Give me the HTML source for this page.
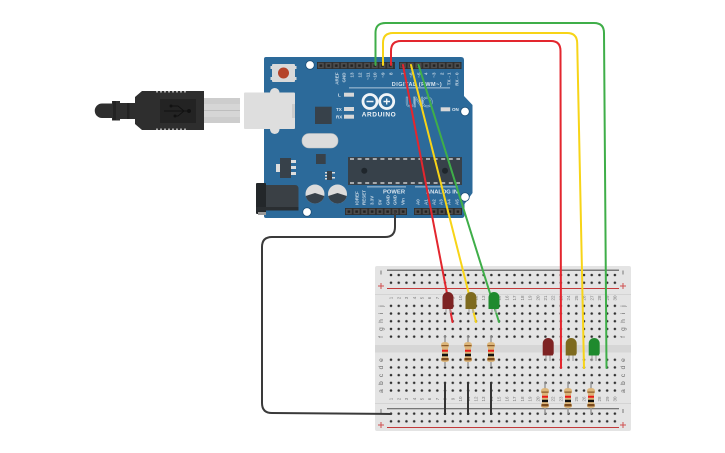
<!DOCTYPE html>
<html><head><meta charset="utf-8"><style>html,body{margin:0;padding:0;background:#fff}svg{display:block}text{font-family:"Liberation Sans",sans-serif}</style></head><body>
<svg width="725" height="453" viewBox="0 0 725 453" xmlns="http://www.w3.org/2000/svg">
<defs>
<pattern id="d" x="387.15" y="1.65" width="7.72" height="7.7" patternUnits="userSpaceOnUse"><circle cx="3.86" cy="3.85" r="1.25" fill="#2e2e2e"/></pattern>
<pattern id="h1" x="317" y="62" width="7.7" height="7" patternUnits="userSpaceOnUse"><rect x=".8" y=".8" width="6" height="5.4" fill="#4d4d4d"/><rect x="2.6" y="2.4" width="2.6" height="2.4" fill="#222"/></pattern>
<pattern id="h2" x="399" y="62" width="7.8" height="7" patternUnits="userSpaceOnUse"><rect x=".8" y=".8" width="6" height="5.4" fill="#4d4d4d"/><rect x="2.6" y="2.4" width="2.6" height="2.4" fill="#222"/></pattern>
<pattern id="h3" x="345" y="208" width="7.75" height="7" patternUnits="userSpaceOnUse"><rect x=".8" y=".8" width="6" height="5.4" fill="#4d4d4d"/><rect x="2.6" y="2.4" width="2.6" height="2.4" fill="#222"/></pattern>
<pattern id="h4" x="414" y="208" width="8" height="7" patternUnits="userSpaceOnUse"><rect x=".8" y=".8" width="6" height="5.4" fill="#4d4d4d"/><rect x="2.6" y="2.4" width="2.6" height="2.4" fill="#222"/></pattern>
</defs>
<!-- breadboard -->
<rect x="375" y="266" width="256" height="165" rx="2" fill="#e4e4e4"/>
<rect x="375" y="294" width="256" height="1" fill="#d4d4d4"/>
<rect x="375" y="403" width="256" height="1" fill="#d4d4d4"/>
<rect x="375" y="345" width="256" height="7.500" fill="#d6d6d6"/>
<rect x="387" y="269.500" width="232" height="1.500" fill="#777"/>
<rect x="387" y="288" width="232" height="1" fill="#c23a3a"/>
<rect x="387" y="408" width="232" height="1.300" fill="#777"/>
<rect x="387" y="427" width="232" height="1" fill="#c23a3a"/>
<g fill="url(#d)">
<rect x="387.15" y="271.6" width="231.6" height="15.4"/>
<rect x="387.15" y="302.4" width="231.6" height="38.5"/>
<rect x="387.15" y="356.3" width="231.6" height="38.5"/>
<rect x="387.15" y="410.2" width="231.6" height="15.4"/>
</g>
<path d="M381 270.500V274.500M381 409V413M623 270.500V274.500M623 409V413" stroke="#777" stroke-width="1"/>
<path d="M378 286H384M381 283V289M378 425H384M381 422V428M620 286H626M623 283V289M620 425H626M623 422V428" stroke="#d05050" stroke-width="1"/>
<g font-size="6.500" fill="#666" text-anchor="middle">
<text transform="translate(383 306) rotate(-90)">j</text><text transform="translate(383 313.500) rotate(-90)">i</text><text transform="translate(383 321) rotate(-90)">h</text><text transform="translate(383 329) rotate(-90)">g</text><text transform="translate(383 337) rotate(-90)">f</text>
<text transform="translate(383 360) rotate(-90)">e</text><text transform="translate(383 367.500) rotate(-90)">d</text><text transform="translate(383 375.500) rotate(-90)">c</text><text transform="translate(383 383) rotate(-90)">b</text><text transform="translate(383 391) rotate(-90)">a</text>
<text transform="translate(625 306) rotate(-90)">j</text><text transform="translate(625 313.500) rotate(-90)">i</text><text transform="translate(625 321) rotate(-90)">h</text><text transform="translate(625 329) rotate(-90)">g</text><text transform="translate(625 337) rotate(-90)">f</text>
<text transform="translate(625 360) rotate(-90)">e</text><text transform="translate(625 367.500) rotate(-90)">d</text><text transform="translate(625 375.500) rotate(-90)">c</text><text transform="translate(625 383) rotate(-90)">b</text><text transform="translate(625 391) rotate(-90)">a</text>
</g>
<g font-size="4.500" fill="#777" text-anchor="middle">
<text transform="translate(392.6 298) rotate(-90)">1</text><text transform="translate(400.3 298) rotate(-90)">2</text><text transform="translate(408 298) rotate(-90)">3</text><text transform="translate(415.8 298) rotate(-90)">4</text><text transform="translate(423.5 298) rotate(-90)">5</text><text transform="translate(431.2 298) rotate(-90)">6</text><text transform="translate(438.9 298) rotate(-90)">7</text><text transform="translate(446.6 298) rotate(-90)">8</text><text transform="translate(454.3 298) rotate(-90)">9</text><text transform="translate(462.1 298) rotate(-90)">10</text><text transform="translate(469.8 298) rotate(-90)">11</text><text transform="translate(477.5 298) rotate(-90)">12</text><text transform="translate(485.2 298) rotate(-90)">13</text><text transform="translate(492.9 298) rotate(-90)">14</text><text transform="translate(500.7 298) rotate(-90)">15</text><text transform="translate(508.4 298) rotate(-90)">16</text><text transform="translate(516.1 298) rotate(-90)">17</text><text transform="translate(523.8 298) rotate(-90)">18</text><text transform="translate(531.5 298) rotate(-90)">19</text><text transform="translate(539.3 298) rotate(-90)">20</text><text transform="translate(547 298) rotate(-90)">21</text><text transform="translate(554.7 298) rotate(-90)">22</text><text transform="translate(562.5 298) rotate(-90)">23</text><text transform="translate(570.2 298) rotate(-90)">24</text><text transform="translate(577.9 298) rotate(-90)">25</text><text transform="translate(585.6 298) rotate(-90)">26</text><text transform="translate(593.4 298) rotate(-90)">27</text><text transform="translate(601.1 298) rotate(-90)">28</text><text transform="translate(608.8 298) rotate(-90)">29</text><text transform="translate(616.5 298) rotate(-90)">30</text>
<text transform="translate(392.6 399) rotate(-90)">1</text><text transform="translate(400.3 399) rotate(-90)">2</text><text transform="translate(408 399) rotate(-90)">3</text><text transform="translate(415.8 399) rotate(-90)">4</text><text transform="translate(423.5 399) rotate(-90)">5</text><text transform="translate(431.2 399) rotate(-90)">6</text><text transform="translate(438.9 399) rotate(-90)">7</text><text transform="translate(446.6 399) rotate(-90)">8</text><text transform="translate(454.3 399) rotate(-90)">9</text><text transform="translate(462.1 399) rotate(-90)">10</text><text transform="translate(469.8 399) rotate(-90)">11</text><text transform="translate(477.5 399) rotate(-90)">12</text><text transform="translate(485.2 399) rotate(-90)">13</text><text transform="translate(492.9 399) rotate(-90)">14</text><text transform="translate(500.7 399) rotate(-90)">15</text><text transform="translate(508.4 399) rotate(-90)">16</text><text transform="translate(516.1 399) rotate(-90)">17</text><text transform="translate(523.8 399) rotate(-90)">18</text><text transform="translate(531.5 399) rotate(-90)">19</text><text transform="translate(539.3 399) rotate(-90)">20</text><text transform="translate(547 399) rotate(-90)">21</text><text transform="translate(554.7 399) rotate(-90)">22</text><text transform="translate(562.5 399) rotate(-90)">23</text><text transform="translate(570.2 399) rotate(-90)">24</text><text transform="translate(577.9 399) rotate(-90)">25</text><text transform="translate(585.6 399) rotate(-90)">26</text><text transform="translate(593.4 399) rotate(-90)">27</text><text transform="translate(601.1 399) rotate(-90)">28</text><text transform="translate(608.8 399) rotate(-90)">29</text><text transform="translate(616.5 399) rotate(-90)">30</text>
</g>
<!-- USB -->
<rect x="204" y="98" width="36" height="25" fill="#cdcdcd"/><rect x="204" y="104" width="36" height="13" fill="#d6d6d6"/><rect x="204" y="110" width="36" height=".7" fill="#b5b5b5"/>
<path d="M102 103.500H112V101H120V103H135V97L142 91H204V130H142L135 124V119H120V120.500H112V118H102A7.2 7.2 0 0 1 102 103.500Z" fill="#2e2e2e"/>
<path d="M157 91v1.500M161 91v1.500M165 91v1.500M169 91v1.500M173 91v1.500M177 91v1.500M181 91v1.500M185 91v1.500M157 130v-1.500M161 130v-1.500M165 130v-1.500M169 130v-1.500M173 130v-1.500M177 130v-1.500M181 130v-1.500M185 130v-1.500" stroke="#fff" stroke-width="1.200"/>
<rect x="160" y="99" width="36" height="24" fill="#232323"/>
<path d="M164 111H188M172 106H178L184 111 178 116H174" fill="none" stroke="#111" stroke-width=".9"/><circle cx="189" cy="111" r="2" fill="#111"/><circle cx="171" cy="106" r="1.500" fill="#111"/><circle cx="175" cy="116" r="1.500" fill="#111"/>
<rect x="113" y="101" width="3" height="19" fill="#222"/><rect x="127" y="103" width="2.500" height="16" fill="#222"/>
<!-- Arduino board -->
<path d="M266 57H461Q464 57 464 60V96L472.500 105V193L464.500 204V215Q464.500 218 461.500 218H266Q264 218 264 216V59Q264 57 266 57Z" fill="#2c6a9a"/>
<rect x="270" y="88" width="9.500" height="46" rx="4.700" fill="#dedede"/><rect x="244" y="92.500" width="51" height="36.500" rx="1" fill="#dedede"/><rect x="292" y="104" width="3" height="14" fill="#cbcbcb"/>
<rect x="272" y="64" width="23" height="18" rx="1" fill="#d9d9d9"/><path d="M270.500 66h1.500v3h-1.500zM270.500 77h1.500v3h-1.500zM295 66h1.500v3h-1.500zM295 77h1.500v3h-1.500z" fill="#d9d9d9"/><circle cx="283.500" cy="73" r="5.500" fill="#b5442a"/>
<circle cx="310" cy="65" r="4.300" fill="#fff" stroke="#1c4f78" stroke-width=".8"/><circle cx="465" cy="111.500" r="4.300" fill="#fff" stroke="#1c4f78" stroke-width=".8"/><circle cx="465" cy="197" r="4.300" fill="#fff" stroke="#1c4f78" stroke-width=".8"/><circle cx="307" cy="212" r="4.300" fill="#fff" stroke="#1c4f78" stroke-width=".8"/>
<rect x="317" y="62" width="78" height="7" fill="#2e2e2e"/><rect x="399" y="62" width="62.500" height="7" fill="#2e2e2e"/><rect x="345" y="208" width="62" height="7" fill="#2e2e2e"/><rect x="414" y="208" width="48" height="7" fill="#2e2e2e"/>
<rect x="317" y="62" width="78" height="7" fill="url(#h1)"/><rect x="399" y="62" width="62.500" height="7" fill="url(#h2)"/>
<rect x="345" y="208" width="62" height="7" fill="url(#h3)"/><rect x="414" y="208" width="48" height="7" fill="url(#h4)"/>
<g font-size="4.500" font-weight="700" fill="#c4d5e3" text-anchor="end">
<text transform="translate(338.6 72.500) rotate(-90)">AREF</text><text transform="translate(345.6 72.500) rotate(-90)">GND</text><text transform="translate(353.6 72.500) rotate(-90)">13</text><text transform="translate(361.6 72.500) rotate(-90)">12</text><text transform="translate(369.3 72.500) rotate(-90)">~11</text><text transform="translate(376.6 72.500) rotate(-90)">~10</text><text transform="translate(384.6 72.500) rotate(-90)">~9</text><text transform="translate(392.3 72.500) rotate(-90)">8</text>
<text transform="translate(404.6 72.500) rotate(-90)">7</text><text transform="translate(412.6 72.500) rotate(-90)">~6</text><text transform="translate(420.3 72.500) rotate(-90)">~5</text><text transform="translate(427.6 72.500) rotate(-90)">4</text><text transform="translate(435.3 72.500) rotate(-90)">~3</text><text transform="translate(443.3 72.500) rotate(-90)">2</text><text transform="translate(450.6 72.500) rotate(-90)">TX&#8594;1</text><text transform="translate(458.6 72.500) rotate(-90)">RX&#8592;0</text>
</g>
<g font-size="4.500" font-weight="700" fill="#c4d5e3">
<text transform="translate(358.3 205) rotate(-90)">IOREF</text><text transform="translate(365.6 205) rotate(-90)">RESET</text><text transform="translate(373.6 205) rotate(-90)">3.3V</text><text transform="translate(381.6 205) rotate(-90)">5V</text><text transform="translate(389.3 205) rotate(-90)">GND</text><text transform="translate(396.6 205) rotate(-90)">GND</text><text transform="translate(404.6 205) rotate(-90)">Vin</text>
<text transform="translate(419.6 205) rotate(-90)">A0</text><text transform="translate(427.6 205) rotate(-90)">A1</text><text transform="translate(435.3 205) rotate(-90)">A2</text><text transform="translate(442.6 205) rotate(-90)">A3</text><text transform="translate(450.6 205) rotate(-90)">A4</text><text transform="translate(458.3 205) rotate(-90)">A5</text>
</g>
<text x="391.700" y="86" font-size="5.500" font-weight="700" fill="#dbe6ef" textLength="50">DIGITAL (PWM~)</text>
<rect x="349" y="87.500" width="101" height=".8" fill="#cfdde9"/>
<text x="383" y="193.500" font-size="5.800" font-weight="700" fill="#dbe6ef" textLength="22">POWER</text><text x="426" y="193.500" font-size="5.800" font-weight="700" fill="#dbe6ef" textLength="32">ANALOG IN</text>
<rect x="367" y="186.500" width="39" height=".8" fill="#cfdde9"/><rect x="415" y="186.500" width="43" height=".8" fill="#cfdde9"/>
<g fill="none" stroke="#f0f4f7" stroke-width="2.800"><circle cx="370" cy="101.500" r="7"/><circle cx="386.700" cy="101.500" r="7"/></g>
<path d="M366.500 101.500H373.500M383.500 101.500H390M386.700 98.500V104.500" stroke="#f0f4f7" stroke-width="1.400"/>
<text x="361.700" y="116.700" font-size="6.500" font-weight="700" fill="#f0f4f7" textLength="34">ARDUINO</text>
<text x="405" y="107" font-size="15" fill="none" stroke="#a8c4d8" stroke-width=".5" textLength="28">UNO</text>
<g fill="#d8d8d8"><rect x="344" y="92.700" width="10" height="4"/><rect x="344" y="107" width="10" height="4"/><rect x="344" y="114.700" width="10" height="4"/><rect x="440.700" y="107.300" width="9.500" height="4"/></g>
<g font-size="4.500" font-weight="700" fill="#dfe9f1"><text x="338" y="96.500">L</text><text x="336" y="111">TX</text><text x="336" y="118.500">RX</text><text x="452" y="111">ON</text></g>
<rect x="315" y="106.700" width="16.700" height="17.300" fill="#37414a"/><rect x="316" y="154" width="9.700" height="10" fill="#37414a"/>
<rect x="302" y="133.500" width="36" height="14.500" rx="7" fill="#dcdcdc" stroke="#c0c0c0" stroke-width=".6"/>
<rect x="280" y="158" width="11" height="20" fill="#37414a"/><rect x="276" y="164" width="4" height="8" fill="#ddd"/><rect x="291" y="160" width="5" height="3" fill="#ddd"/><rect x="291" y="166" width="5" height="3" fill="#ddd"/><rect x="291" y="172" width="5" height="3" fill="#ddd"/>
<rect x="327" y="171" width="5" height="9" fill="#37414a"/><path d="M325 172h2v1.500h-2zM325 175h2v1.500h-2zM325 178h2v1.500h-2zM332 172h3v1.500h-3zM332 177h3v1.500h-3z" fill="#ddd"/>
<rect x="348" y="157" width="114" height="28" fill="#37414a"/>
<path d="M350 159H460M350 183H460" stroke="#e8e8e8" stroke-width="1.200" stroke-dasharray="4 3.600"/>
<circle cx="364.300" cy="170.700" r="3" fill="#1f262c"/><circle cx="445" cy="170.700" r="3" fill="#1f262c"/>
<circle cx="315" cy="194" r="9.500" fill="#dcdcdc"/><path d="M305.700 196A9.500 9.500 0 0 0 324.300 196L315 193Z" fill="#37414a"/><circle cx="337.500" cy="194" r="9.500" fill="#dcdcdc"/><path d="M328.200 196A9.500 9.500 0 0 0 346.800 196L337.500 193Z" fill="#37414a"/>
<rect x="256" y="183" width="10" height="31" rx="1" fill="#23272a"/><rect x="258" y="212" width="8" height="3" fill="#999"/>
<path d="M266 185H295Q298.500 185 298.500 189V207Q298.500 210 295 210H266Z" fill="#3a4045"/><rect x="256" y="207" width="42.500" height="3.500" fill="#2a2e31"/>
<!-- resistors -->
<g stroke="#999" stroke-width="1.500"><path d="M445 336V367M468 336V367M491 336V367M545 382V414M568 382V414M591 382V414"/></g>
<g fill="#dcb67a"><path d="M441 345Q441 342 445 342T449 345V346L448 348V357L449 359V360Q449 362 445 362T441 360V359L442 357V348L441 346Z"/><path d="M464 345Q464 342 468 342T472 345V346L471 348V357L472 359V360Q472 362 468 362T464 360V359L465 357V348L464 346Z"/><path d="M487 345Q487 342 491 342T495 345V346L494 348V357L495 359V360Q495 362 491 362T487 360V359L488 357V348L487 346Z"/><path d="M541 391Q541 388 545 388T549 391V392L548 394V403L549 405V406Q549 408 545 408T541 406V405L542 403V394L541 392Z"/><path d="M564 391Q564 388 568 388T572 391V392L571 394V403L572 405V406Q572 408 568 408T564 406V405L565 403V394L564 392Z"/><path d="M587 391Q587 388 591 388T595 391V392L594 394V403L595 405V406Q595 408 591 408T587 406V405L588 403V394L587 392Z"/></g>
<g><path d="M441.500 345h7v1.200h-7zM464.500 345h7v1.200h-7zM487.500 345h7v1.200h-7zM541.500 391.500h7v1.200h-7zM564.500 391.500h7v1.200h-7zM587.500 391.500h7v1.200h-7z" fill="#8a5a2a"/>
<path d="M442 349.700h6v2h-6zM465 349.700h6v2h-6zM488 349.700h6v2h-6zM542 395.700h6v2h-6zM565 395.700h6v2h-6zM588 395.700h6v2h-6z" fill="#e81818"/>
<path d="M442 353.800h6v2.400h-6zM465 353.800h6v2.400h-6zM488 353.800h6v2.400h-6zM542 399.700h6v2.400h-6zM565 399.700h6v2.400h-6zM588 399.700h6v2.400h-6z" fill="#111"/>
<path d="M441.500 358h7v2.400h-7zM464.500 358h7v2.400h-7zM487.500 358h7v2.400h-7zM541.500 404h7v2.400h-7zM564.500 404h7v2.400h-7zM587.500 404h7v2.400h-7z" fill="#7a4a1e"/></g>
<!-- black jumpers -->
<path d="M445 382V415M468 382V415M491 382V415" stroke="#333" stroke-width="2" fill="none"/>
<!-- wires -->
<g fill="none" stroke-width="2" stroke-linejoin="round" stroke-linecap="round">
<path d="M395 212V227Q395 237 385 237H272Q262 237 262 247V403Q262 413 272 413L391 414" stroke="#3a3a3a"/>
<path d="M375.500 65V33Q375.500 23 385.500 23H594Q604 23 604 33L606.500 368" stroke="#3fae49"/>
<path d="M383 65V43Q383 33 393 33H567Q577 33 577.200 43L584 368" stroke="#f7d417"/>
<path d="M391 65V51Q391 41 401 41H551Q560.500 41 560.500 51L561 368" stroke="#e3262e"/>
<path d="M403 65L452.500 322" stroke="#e3262e"/>
<path d="M411 65L476 322" stroke="#f7d417"/>
<path d="M418.500 65L499 322" stroke="#3fae49"/>
</g>
<!-- LEDs -->
<g stroke="#aaa" stroke-width="1.300"><path d="M446 308V313M450 308V313M469 308V313M473 308V313M492 308V313M496 308V313M546 354V361M550 354V361M569 354V361M573 354V361M592 354V361M596 354V361"/></g>
<path d="M442.500 309V297.500A5.500 5.500 0 0 1 453.500 297.500V307L452.500 309Z" fill="#7e2323"/>
<path d="M465.500 309V297.500A5.500 5.500 0 0 1 476.500 297.500V307L475.500 309Z" fill="#7e6a1e"/>
<path d="M488.500 309V297.500A5.500 5.500 0 0 1 499.500 297.500V307L498.500 309Z" fill="#1f8a2e"/>
<path d="M542.700 355.500V343.500A5.500 5.500 0 0 1 553.700 343.500V353.500L552.700 355.500Z" fill="#7e2323"/>
<path d="M565.700 355.500V343.500A5.500 5.500 0 0 1 576.700 343.500V353.500L575.700 355.500Z" fill="#7e6a1e"/>
<path d="M588.700 355.500V343.500A5.500 5.500 0 0 1 599.700 343.500V353.500L598.700 355.500Z" fill="#1f8a2e"/>
</svg>
</body></html>
